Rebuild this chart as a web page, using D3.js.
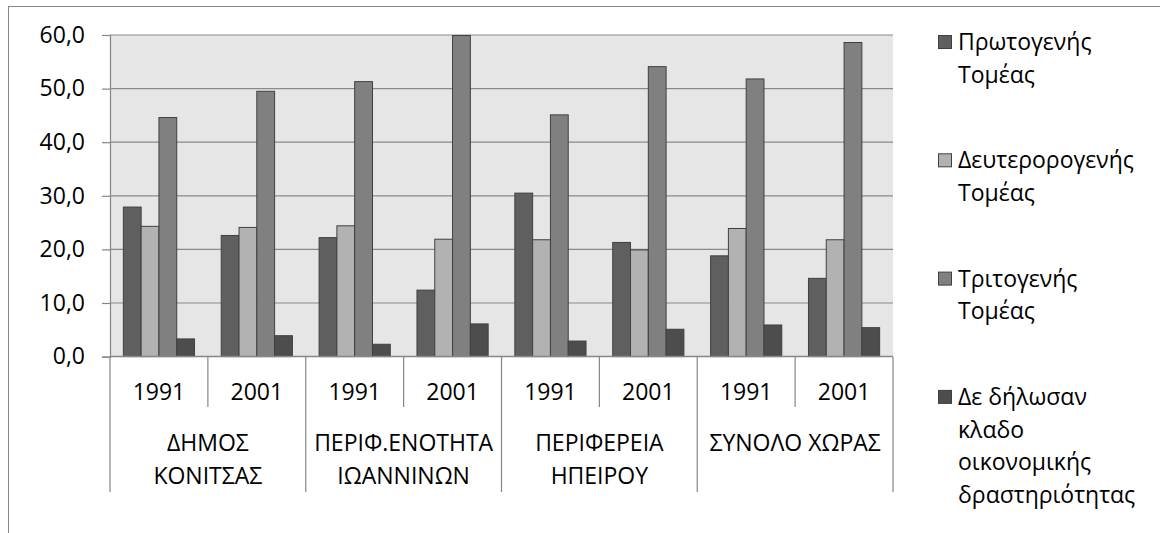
<!DOCTYPE html>
<html>
<head>
<meta charset="utf-8">
<script src="https://cdn.jsdelivr.net/npm/d3@7"></script>
<style>
    body { margin: 0; background: #fff; }
    text { font-family: "Open Sans", sans-serif; fill: #000; }
</style>
</head>
<body>
<div id="vis"></div>
<script>
'use strict';

// Categories: regions and census years
const regions = ["ΔΗΜΟΣ\nΚΟΝΙΤΣΑΣ", "ΠΕΡΙΦ.ΕΝΟΤΗΤΑ\nΙΩΑΝΝΙΝΩΝ", "ΠΕΡΙΦΕΡΕΙΑ\nΗΠΕΙΡΟΥ", "ΣΥΝΟΛΟ ΧΩΡΑΣ"];
const years = ["1991", "2001"];

// Series names (legend) and values, one per region/year slot
const seriesNames = [
    "Πρωτογενής\nΤομέας",
    "Δευτερορογενής\nΤομέας",
    "Τριτογενής\nΤομέας",
    "Δε δήλωσαν\nκλαδο\nοικονομικής\nδραστηριότητας"
];
const primary    = [27.9, 22.6, 22.2, 12.4, 30.5, 21.3, 18.8, 14.6];
const secondary  = [24.3, 24.1, 24.4, 21.9, 21.8, 19.9, 23.9, 21.8];
const tertiary   = [44.6, 49.5, 51.3, 59.9, 45.1, 54.1, 51.8, 58.6];
const undeclared = [3.3, 3.9, 2.3, 6.1, 2.9, 5.1, 5.9, 5.4];
const yTicks = [0, 10, 20, 30, 40, 50, 60];

const colors = ["#5f5f5f", "#b2b2b2", "#808080", "#4d4d4d"];

const constraints = {
    width: 1160,
    height: 533,
    fontSize: "23px",
    plot: {left: 110, right: 893, top: 35, bottom: 356.6}
};

const allSeries = [primary, secondary, tertiary, undeclared];
const slots = [];
regions.forEach((r, ri) => years.forEach((y) => slots.push(ri + "|" + y)));

let svg = d3.select("#vis").append("svg")
    .attr("width", constraints.width)
    .attr("height", constraints.height);

let scaleFunc = {x0: null, x1: null, y: null};

drawVisualization();

function drawVisualization() {
    calculateScaling();
    drawFrame();
    drawGrid();
    drawBars();
    drawAxes();
    drawLegend();
}

// Scales for slot, bar within slot and value
function calculateScaling() {
    const p = constraints.plot;
    scaleFunc.x0 = d3.scaleBand()
        .domain(slots)
        .range([p.left, p.right])
        .padding(0);
    scaleFunc.x1 = d3.scaleBand()
        .domain(d3.range(allSeries.length))
        .range([0, scaleFunc.x0.bandwidth()])
        .paddingInner(0)
        .paddingOuter(0.75);
    scaleFunc.y = d3.scaleLinear()
        .domain([0, 60])
        .range([p.bottom, p.top]);
}

// Chart border and plot background
function drawFrame() {
    const p = constraints.plot;
    svg.append("rect")
        .attr("x", 8.5).attr("y", 6.5)
        .attr("width", 1200).attr("height", 600)
        .attr("fill", "#fff")
        .attr("stroke", "#868686");
    svg.append("rect")
        .attr("x", p.left).attr("y", p.top)
        .attr("width", p.right - p.left)
        .attr("height", p.bottom - p.top)
        .attr("fill", "#e6e6e6");
}

function drawGrid() {
    const p = constraints.plot;
    svg.append("g")
        .selectAll("line")
        .data(yTicks.filter((d) => d > 0))
        .enter()
        .append("line")
            .attr("x1", p.left).attr("x2", p.right)
            .attr("y1", (d) => scaleFunc.y(d)).attr("y2", (d) => scaleFunc.y(d))
            .attr("stroke", "#8a8a8a")
            .attr("stroke-width", 1.2);
}

function drawBars() {
    let groups = svg.append("g")
        .selectAll("g")
        .data(slots)
        .enter()
        .append("g")
            .attr("transform", (d) => "translate(" + scaleFunc.x0(d) + ",0)");
    groups.selectAll("rect")
        .data((d, i) => allSeries.map((s, k) => ({k: k, v: s[i]})))
        .enter()
        .append("rect")
            .attr("x", (d) => scaleFunc.x1(d.k))
            .attr("y", (d) => scaleFunc.y(d.v))
            .attr("width", scaleFunc.x1.bandwidth())
            .attr("height", (d) => scaleFunc.y(0) - scaleFunc.y(d.v))
            .attr("fill", (d) => colors[d.k])
            .attr("stroke", "#404040")
            .attr("stroke-width", 1);
}

function drawAxes() {
    const p = constraints.plot;
    const axisColor = "#868686";

    // y axis
    let yAxis = svg.append("g")
        .attr("transform", "translate(" + p.left + ",0)")
        .call(d3.axisLeft(scaleFunc.y)
            .tickValues(yTicks)
            .tickSize(8)
            .tickPadding(17)
            .tickFormat((d) => d3.format(".1f")(d).replace(".", ",")));
    yAxis.select(".domain").attr("stroke", axisColor).attr("stroke-width", 1.2);
    yAxis.selectAll(".tick line").attr("stroke", axisColor).attr("stroke-width", 1.2);
    yAxis.selectAll(".tick text")
        .style("font-family", "'Open Sans', sans-serif")
        .style("font-size", constraints.fontSize)
        .attr("fill", "#000");

    // x axis base line
    svg.append("line")
        .attr("x1", p.left).attr("x2", p.right)
        .attr("y1", p.bottom).attr("y2", p.bottom)
        .attr("stroke", axisColor).attr("stroke-width", 1.5);

    // separators between years and between regions
    const step = scaleFunc.x0.step();
    const seps = d3.range(slots.length + 1);
    svg.append("g")
        .selectAll("line")
        .data(seps)
        .enter()
        .append("line")
            .attr("x1", (i) => p.left + i * step)
            .attr("x2", (i) => p.left + i * step)
            .attr("y1", p.bottom)
            .attr("y2", (i) => i % 2 == 0 ? 492 : 407)
            .attr("stroke", axisColor)
            .attr("stroke-width", 1.2);

    // year labels
    svg.append("g")
        .selectAll("text")
        .data(slots)
        .enter()
        .append("text")
            .attr("x", (d) => scaleFunc.x0(d) + scaleFunc.x0.bandwidth() / 2)
            .attr("y", 400)
            .attr("text-anchor", "middle")
            .style("font-size", constraints.fontSize)
            .text((d) => d.split("|")[1]);

    // region labels (wrapped lines)
    let regionText = svg.append("g")
        .selectAll("text")
        .data(regions)
        .enter()
        .append("text")
            .attr("text-anchor", "middle")
            .style("font-size", constraints.fontSize);
    regionText.selectAll("tspan")
        .data((d, i) => d.split("\n").map((line) => ({line: line, i: i})))
        .enter()
        .append("tspan")
            .attr("x", (d) => p.left + (d.i * 2 + 1) * step)
            .attr("y", (d, j) => 451 + j * 32.5)
            .text((d) => d.line);
}

function drawLegend() {
    const top = 35;
    const spacing = 118.3;
    let entries = svg.append("g")
        .selectAll("g")
        .data(seriesNames)
        .enter()
        .append("g")
            .attr("transform", (d, i) => "translate(938," + (top + i * spacing) + ")");
    entries.append("rect")
        .attr("x", 0.5).attr("y", 0.5)
        .attr("width", 13).attr("height", 13)
        .attr("fill", (d, i) => colors[i])
        .attr("stroke", "#404040");
    entries.append("text")
        .style("font-size", constraints.fontSize)
        .selectAll("tspan")
        .data((d) => d.split("\n"))
        .enter()
        .append("tspan")
            .attr("x", 20)
            .attr("y", (d, j) => 15 + j * 32.7)
            .text((d) => d);
}
</script>
</body>
</html>
